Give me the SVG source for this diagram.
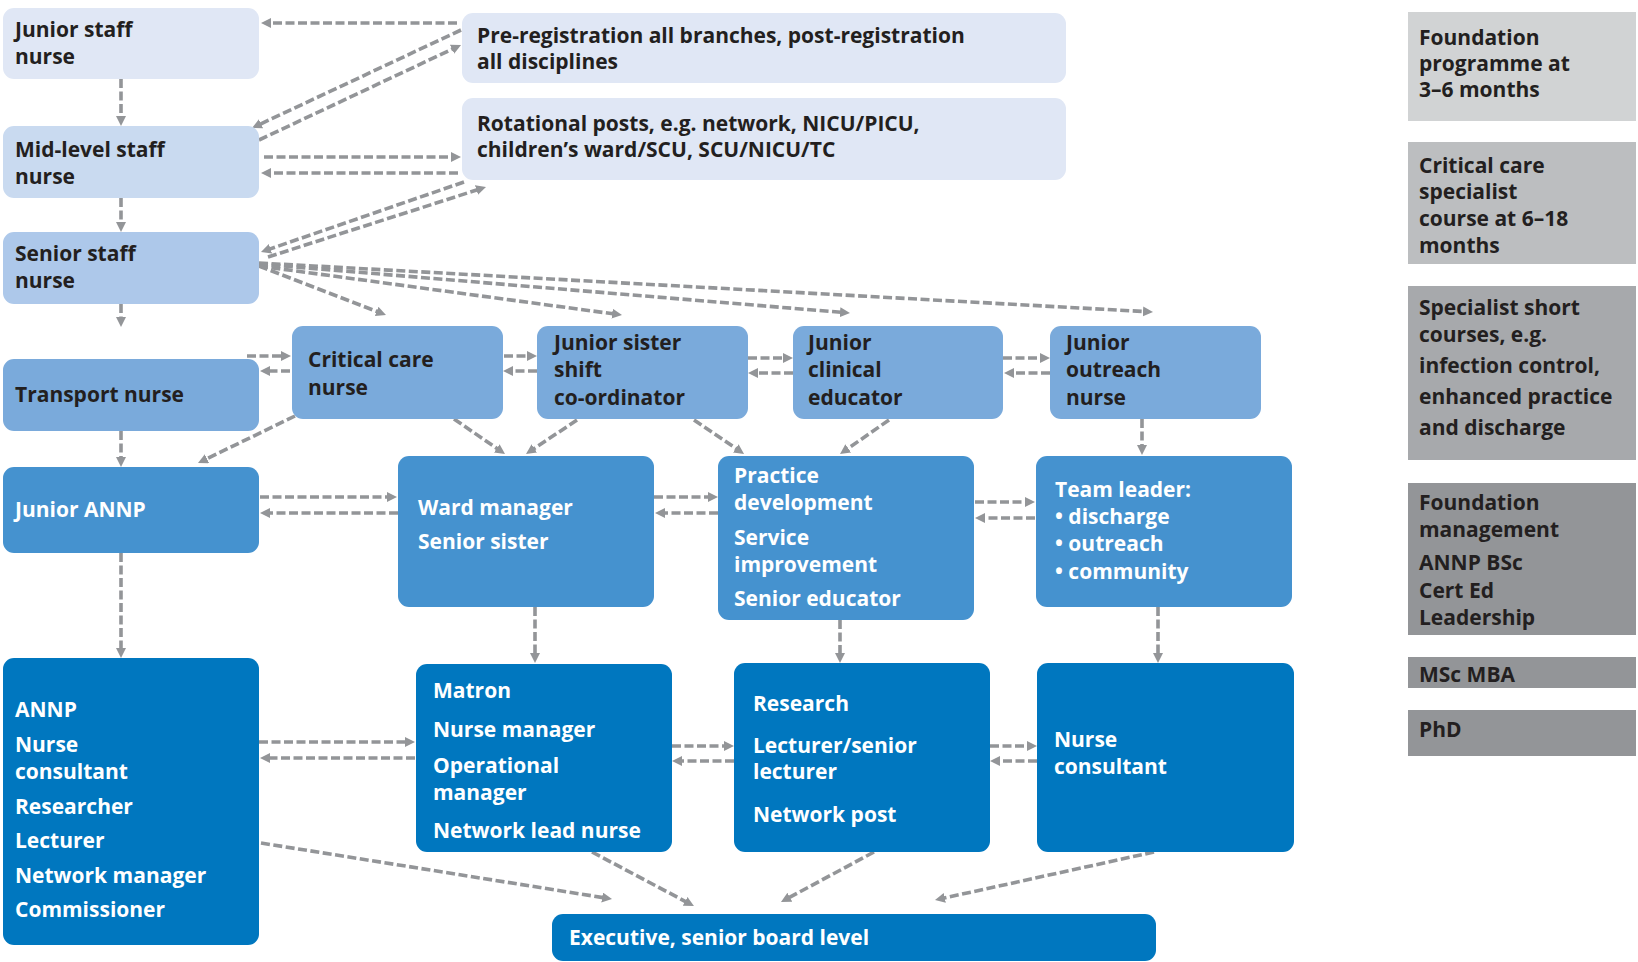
<svg xmlns="http://www.w3.org/2000/svg" width="1638" height="962" viewBox="0 0 1638 962">
<style>
text{font-family:"Open Sans","Noto Sans","Liberation Sans",sans-serif;font-weight:700;font-size:21px}
.dk{fill:#231f20}
.wt{fill:#ffffff}
.c1{fill:#e0e7f5}
.c2{fill:#c9daf0}
.c3{fill:#adc8ea}
.c4{fill:#7aaadb}
.c5{fill:#4592cf}
.c6{fill:#0077bf}
.g1{fill:#d1d3d4}
.g2{fill:#bcbec0}
.g3{fill:#a7a9ac}
.g4{fill:#939598}
#connectors line{stroke:#939598;stroke-width:3.6;stroke-dasharray:9 3.5;fill:none;marker-end:url(#ah)}
</style>
<defs>
<marker id="ah" markerUnits="userSpaceOnUse" markerWidth="11" markerHeight="11" refX="1" refY="5" orient="auto">
<path d="M0,0 L10,5 L0,10 z" fill="#939598"/>
</marker>
</defs>
<rect width="1638" height="962" fill="#ffffff"/>

<g id="connectors">
<line x1="457" y1="23" x2="270" y2="23"/>
<line x1="461" y1="30" x2="260.1" y2="124.2"/>
<line x1="259" y1="140" x2="452.9" y2="48.8"/>
<line x1="264" y1="157" x2="452" y2="157"/>
<line x1="458" y1="173" x2="270" y2="173"/>
<line x1="464" y1="182" x2="269.5" y2="249.1"/>
<line x1="268" y1="257" x2="477.4" y2="189.8"/>
<line x1="121" y1="79" x2="121" y2="117"/>
<line x1="121" y1="198" x2="121" y2="223"/>
<line x1="121" y1="304" x2="121" y2="318"/>
<line x1="121" y1="431" x2="121" y2="458"/>
<line x1="121" y1="553" x2="121" y2="649"/>
<line x1="259" y1="266" x2="377.6" y2="311.8"/>
<line x1="259" y1="266" x2="613.1" y2="313.8"/>
<line x1="259" y1="264" x2="841" y2="312.3"/>
<line x1="259" y1="263" x2="1144" y2="311.5"/>
<line x1="247" y1="356" x2="282" y2="356"/>
<line x1="290" y1="371" x2="269" y2="371"/>
<line x1="295" y1="416" x2="206.1" y2="459.1"/>
<line x1="504" y1="356" x2="528" y2="356"/>
<line x1="537" y1="371" x2="512" y2="371"/>
<line x1="454" y1="419" x2="497.6" y2="448.9"/>
<line x1="577" y1="420" x2="533.5" y2="449"/>
<line x1="748" y1="358" x2="784" y2="358"/>
<line x1="793" y1="373" x2="757" y2="373"/>
<line x1="1003" y1="358" x2="1041" y2="358"/>
<line x1="1050" y1="373" x2="1013" y2="373"/>
<line x1="694" y1="420" x2="736.6" y2="448.9"/>
<line x1="889" y1="420" x2="847.4" y2="448.9"/>
<line x1="1142" y1="419" x2="1142" y2="446"/>
<line x1="260" y1="497" x2="388" y2="497"/>
<line x1="398" y1="513" x2="269" y2="513"/>
<line x1="654" y1="497" x2="709" y2="497"/>
<line x1="718" y1="513" x2="664" y2="513"/>
<line x1="975" y1="502" x2="1026" y2="502"/>
<line x1="1035" y1="518" x2="984" y2="518"/>
<line x1="535" y1="607" x2="535" y2="654"/>
<line x1="840" y1="620" x2="840" y2="654"/>
<line x1="1158" y1="607" x2="1158" y2="654"/>
<line x1="259" y1="742" x2="406" y2="742"/>
<line x1="415" y1="758" x2="269" y2="758"/>
<line x1="672" y1="746" x2="725" y2="746"/>
<line x1="734" y1="761" x2="681" y2="761"/>
<line x1="990" y1="746" x2="1028" y2="746"/>
<line x1="1037" y1="761" x2="999" y2="761"/>
<line x1="261" y1="843" x2="603.1" y2="897.6"/>
<line x1="592" y1="852" x2="686" y2="901.8"/>
<line x1="874" y1="852" x2="788.9" y2="897.7"/>
<line x1="1154" y1="852" x2="943.8" y2="898.1"/>
</g>

<g id="junior-staff-nurse"><rect class="c1" x="3" y="8" width="256" height="71" rx="11"/>
<text class="dk"><tspan x="15" y="37">Junior staff</tspan><tspan x="15" y="64">nurse</tspan></text></g>
<g id="mid-level-staff-nurse"><rect class="c2" x="3" y="126" width="256" height="72" rx="11"/>
<text class="dk"><tspan x="15" y="157">Mid-level staff</tspan><tspan x="15" y="184">nurse</tspan></text></g>
<g id="senior-staff-nurse"><rect class="c3" x="3" y="232" width="256" height="72" rx="11"/>
<text class="dk"><tspan x="15" y="261">Senior staff</tspan><tspan x="15" y="288">nurse</tspan></text></g>
<g id="pre-registration"><rect class="c1" x="462" y="13" width="604" height="70" rx="11"/>
<text class="dk"><tspan x="477" y="43">Pre-registration all branches, post-registration</tspan><tspan x="477" y="69">all disciplines</tspan></text></g>
<g id="rotational-posts"><rect class="c1" x="462" y="98" width="604" height="82" rx="11"/>
<text class="dk"><tspan x="477" y="131">Rotational posts, e.g. network, NICU/PICU,</tspan><tspan x="477" y="157">children’s ward/SCU, SCU/NICU/TC</tspan></text></g>

<g id="transport-nurse"><rect class="c4" x="3" y="359" width="256" height="72" rx="11"/>
<text class="dk"><tspan x="15" y="402">Transport nurse</tspan></text></g>
<g id="critical-care-nurse"><rect class="c4" x="292" y="326" width="211" height="93" rx="11"/>
<text class="dk"><tspan x="308" y="367">Critical care</tspan><tspan x="308" y="395">nurse</tspan></text></g>
<g id="junior-sister"><rect class="c4" x="537" y="326" width="211" height="93" rx="11"/>
<text class="dk"><tspan x="554" y="350">Junior sister</tspan><tspan x="554" y="377">shift</tspan><tspan x="554" y="405">co-ordinator</tspan></text></g>
<g id="junior-clinical-educator"><rect class="c4" x="793" y="326" width="210" height="93" rx="11"/>
<text class="dk"><tspan x="808" y="350">Junior</tspan><tspan x="808" y="377">clinical</tspan><tspan x="808" y="405">educator</tspan></text></g>
<g id="junior-outreach-nurse"><rect class="c4" x="1050" y="326" width="211" height="93" rx="11"/>
<text class="dk"><tspan x="1066" y="350">Junior</tspan><tspan x="1066" y="377">outreach</tspan><tspan x="1066" y="405">nurse</tspan></text></g>

<g id="junior-annp"><rect class="c5" x="3" y="467" width="256" height="86" rx="11"/>
<text class="wt"><tspan x="15" y="517">Junior ANNP</tspan></text></g>
<g id="ward-manager"><rect class="c5" x="398" y="456" width="256" height="151" rx="11"/>
<text class="wt"><tspan x="418" y="515">Ward manager</tspan><tspan x="418" y="549">Senior sister</tspan></text></g>
<g id="practice-development"><rect class="c5" x="718" y="456" width="256" height="164" rx="11"/>
<text class="wt"><tspan x="734" y="483">Practice</tspan><tspan x="734" y="510">development</tspan><tspan x="734" y="545">Service</tspan><tspan x="734" y="572">improvement</tspan><tspan x="734" y="606">Senior educator</tspan></text></g>
<g id="team-leader"><rect class="c5" x="1036" y="456" width="256" height="151" rx="11"/>
<text class="wt"><tspan x="1055" y="497">Team leader:</tspan><tspan x="1055" y="524">• discharge</tspan><tspan x="1055" y="551">• outreach</tspan><tspan x="1055" y="579">• community</tspan></text></g>

<g id="annp"><rect class="c6" x="3" y="658" width="256" height="287" rx="11"/>
<text class="wt"><tspan x="15" y="717">ANNP</tspan><tspan x="15" y="752">Nurse</tspan><tspan x="15" y="779">consultant</tspan><tspan x="15" y="814">Researcher</tspan><tspan x="15" y="848">Lecturer</tspan><tspan x="15" y="883">Network manager</tspan><tspan x="15" y="917">Commissioner</tspan></text></g>
<g id="matron"><rect class="c6" x="416" y="664" width="256" height="188" rx="11"/>
<text class="wt"><tspan x="433" y="698">Matron</tspan><tspan x="433" y="737">Nurse manager</tspan><tspan x="433" y="773">Operational</tspan><tspan x="433" y="800">manager</tspan><tspan x="433" y="838">Network lead nurse</tspan></text></g>
<g id="research"><rect class="c6" x="734" y="663" width="256" height="189" rx="11"/>
<text class="wt"><tspan x="753" y="711">Research</tspan><tspan x="753" y="753">Lecturer/senior</tspan><tspan x="753" y="779">lecturer</tspan><tspan x="753" y="822">Network post</tspan></text></g>
<g id="nurse-consultant"><rect class="c6" x="1037" y="663" width="257" height="189" rx="11"/>
<text class="wt"><tspan x="1054" y="747">Nurse</tspan><tspan x="1054" y="774">consultant</tspan></text></g>
<g id="executive"><rect class="c6" x="552" y="914" width="604" height="47" rx="11"/>
<text class="wt"><tspan x="569" y="945">Executive, senior board level</tspan></text></g>

<g id="foundation-programme"><rect class="g1" x="1408" y="12" width="228" height="109"/>
<text class="dk"><tspan x="1419" y="45">Foundation</tspan><tspan x="1419" y="71">programme at</tspan><tspan x="1419" y="97">3–6 months</tspan></text></g>
<g id="critical-care-course"><rect class="g2" x="1408" y="142" width="228" height="122"/>
<text class="dk"><tspan x="1419" y="173">Critical care</tspan><tspan x="1419" y="199">specialist</tspan><tspan x="1419" y="226">course at 6–18</tspan><tspan x="1419" y="253">months</tspan></text></g>
<g id="specialist-short-courses"><rect class="g3" x="1408" y="286" width="228" height="174"/>
<text class="dk"><tspan x="1419" y="315">Specialist short</tspan><tspan x="1419" y="342">courses, e.g.</tspan><tspan x="1419" y="373">infection control,</tspan><tspan x="1419" y="404">enhanced practice</tspan><tspan x="1419" y="435">and discharge</tspan></text></g>
<g id="foundation-management"><rect class="g4" x="1408" y="483" width="228" height="152"/>
<text class="dk"><tspan x="1419" y="510">Foundation</tspan><tspan x="1419" y="537">management</tspan><tspan x="1419" y="570">ANNP BSc</tspan><tspan x="1419" y="598">Cert Ed</tspan><tspan x="1419" y="625">Leadership</tspan></text></g>
<g id="msc-mba"><rect class="g4" x="1408" y="657" width="228" height="31"/>
<text class="dk"><tspan x="1419" y="682">MSc MBA</tspan></text></g>
<g id="phd"><rect class="g4" x="1408" y="710" width="228" height="46"/>
<text class="dk"><tspan x="1419" y="737">PhD</tspan></text></g>
</svg>
